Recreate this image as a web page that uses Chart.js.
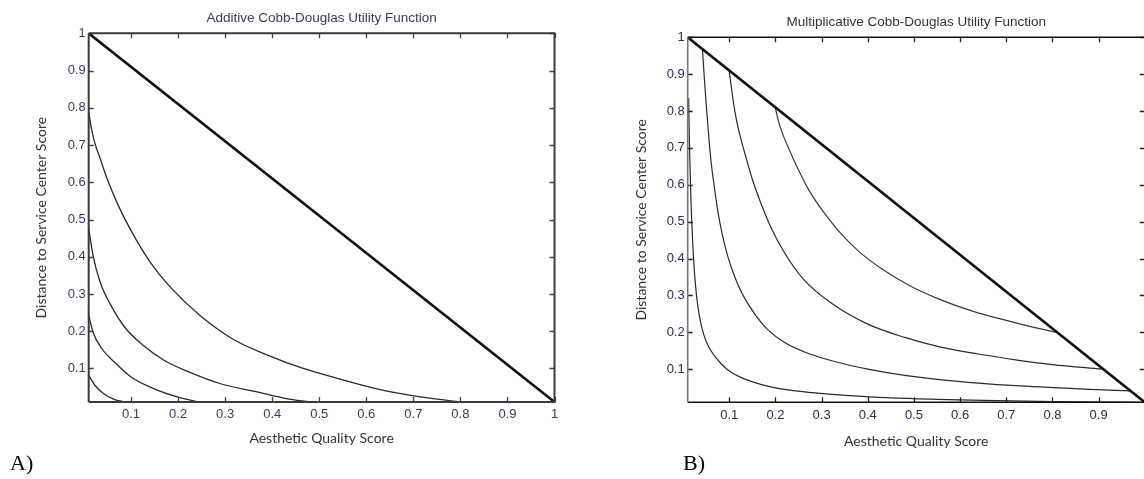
<!DOCTYPE html>
<html>
<head>
<meta charset="utf-8">
<script src="https://cdn.jsdelivr.net/npm/chart.js@4"></script>
<style>
  html, body { margin: 0; padding: 0; background: #fff; overflow: hidden; width: 1144px; height: 479px; }
  canvas { position: absolute; top: 0; }
  .panel { position: absolute; top: 450px; font-family: "Liberation Serif", "DejaVu Serif", serif; font-size: 22px; color: #000; }
</style>
</head>
<body>
<canvas id="chartA" width="575" height="479" style="left:0px"></canvas>
<canvas id="chartB" width="600" height="479" style="left:580px"></canvas>
<div class="panel" style="left:10px">A)</div>
<div class="panel" style="left:683px">B)</div>
<script>
// tick values and labels
const ticksA = [0.1, 0.2, 0.3, 0.4, 0.5, 0.6, 0.7, 0.8, 0.9, 1];
const labelsA = ['0.1', '0.2', '0.3', '0.4', '0.5', '0.6', '0.7', '0.8', '0.9', '1'];
const ticksBx = [0.1, 0.2, 0.3, 0.4, 0.5, 0.6, 0.7, 0.8, 0.9];
const labelsBx = ['0.1', '0.2', '0.3', '0.4', '0.5', '0.6', '0.7', '0.8', '0.9'];

// budget line (both panels)
const lineX = [0.01, 1];
const lineY = [1, 0.01];

// A) additive curves
const aC1X = [0.01, 0.015, 0.022, 0.034, 0.049, 0.072, 0.10, 0.14, 0.186, 0.246, 0.315, 0.39, 0.466, 0.54, 0.62, 0.694, 0.80];
const aC1Y = [0.79, 0.75, 0.71, 0.665, 0.61, 0.54, 0.47, 0.387, 0.315, 0.243, 0.18, 0.136, 0.10, 0.073, 0.046, 0.028, 0.01];
const aC2X = [0.01, 0.019, 0.034, 0.057, 0.087, 0.125, 0.17, 0.224, 0.29, 0.368, 0.43, 0.48];
const aC2Y = [0.477, 0.405, 0.333, 0.27, 0.21, 0.163, 0.122, 0.09, 0.059, 0.037, 0.019, 0.01];
const aC3X = [0.01, 0.019, 0.038, 0.064, 0.10, 0.148, 0.2, 0.243];
const aC3Y = [0.243, 0.198, 0.153, 0.118, 0.077, 0.046, 0.023, 0.01];
const aC4X = [0.01, 0.023, 0.042, 0.064, 0.087];
const aC4Y = [0.082, 0.055, 0.032, 0.017, 0.01];

// B) multiplicative curves
const bC1X = [0.199, 0.205, 0.215, 0.23, 0.25, 0.275, 0.305, 0.34, 0.38, 0.43, 0.49, 0.56, 0.63, 0.7, 0.76, 0.814];
const bC1Y = [0.814, 0.78, 0.74, 0.695, 0.64, 0.58, 0.525, 0.47, 0.42, 0.372, 0.327, 0.287, 0.256, 0.232, 0.213, 0.198];
const bC2X = [0.1, 0.105, 0.112, 0.122, 0.135, 0.15, 0.17, 0.19, 0.22, 0.26, 0.32, 0.4, 0.48, 0.56, 0.64, 0.72, 0.8, 0.906];
const bC2Y = [0.907, 0.86, 0.8, 0.74, 0.68, 0.615, 0.545, 0.485, 0.415, 0.345, 0.28, 0.222, 0.186, 0.159, 0.141, 0.125, 0.112, 0.1];
const bC3X = [0.042, 0.046, 0.05, 0.055, 0.06, 0.067, 0.075, 0.085, 0.097, 0.112, 0.13, 0.155, 0.185, 0.22, 0.27, 0.33, 0.4, 0.48, 0.56, 0.64, 0.72, 0.8, 0.88, 0.968];
const bC3Y = [0.966, 0.89, 0.82, 0.74, 0.67, 0.6, 0.53, 0.465, 0.405, 0.35, 0.3, 0.25, 0.205, 0.172, 0.143, 0.12, 0.1, 0.083, 0.071, 0.062, 0.055, 0.05, 0.045, 0.041];
const bC4X = [0.012, 0.014, 0.017, 0.021, 0.026, 0.032, 0.04, 0.05, 0.063, 0.08, 0.1, 0.13, 0.17, 0.22, 0.28, 0.36, 0.45, 0.55, 0.65, 0.8, 0.99];
const bC4Y = [0.835, 0.7, 0.56, 0.44, 0.34, 0.27, 0.215, 0.175, 0.145, 0.118, 0.095, 0.075, 0.058, 0.045, 0.036, 0.028, 0.022, 0.018, 0.015, 0.012, 0.01];

function pts(xs, ys) {
    return xs.map((x, i) => ({ x: x, y: ys[i] }));
}

function curve(xs, ys, color, width) {
    return {
        data: pts(xs, ys),
        borderColor: color,
        borderWidth: width,
        pointRadius: 0,
        cubicInterpolationMode: 'monotone',
        fill: false
    };
}

// matlab style box with inward ticks on all four sides
const framePlugin = {
    id: 'frame',
    afterDatasetsDraw(chart, args, opts) {
        const { ctx, chartArea: a, scales: { x, y } } = chart;
        const len = opts.tickLen;
        ctx.save();
        ctx.strokeStyle = opts.tickColor;
        ctx.lineWidth = 1.3;
        ctx.beginPath();
        x.ticks.forEach(t => {
            const px = Math.round(x.getPixelForValue(t.value)) + 0.5;
            ctx.moveTo(px, a.bottom); ctx.lineTo(px, a.bottom - len);
            ctx.moveTo(px, a.top); ctx.lineTo(px, a.top + len);
        });
        y.ticks.forEach(t => {
            const py = Math.round(y.getPixelForValue(t.value)) + 0.5;
            ctx.moveTo(a.left, py); ctx.lineTo(a.left + len, py);
            ctx.moveTo(a.right, py); ctx.lineTo(a.right - len, py);
        });
        ctx.stroke();

        ctx.lineWidth = opts.width;
        ctx.strokeStyle = opts.color;
        ctx.beginPath();
        ctx.moveTo(a.left, a.top); ctx.lineTo(a.right, a.top); ctx.lineTo(a.right, a.bottom); ctx.lineTo(a.left, a.bottom);
        ctx.stroke();
        ctx.strokeStyle = opts.leftColor;
        ctx.beginPath();
        ctx.moveTo(a.left, a.top); ctx.lineTo(a.left, a.bottom);
        ctx.stroke();
        ctx.restore();
    }
};

function makeChart(id, cfg) {
    const tickFont = { family: '"Liberation Sans", Arial, sans-serif', size: 13 };
    const titleFont = { family: 'Lato, "Open Sans", sans-serif', size: 14 };
    return new Chart(document.getElementById(id), {
        type: 'line',
        data: { datasets: cfg.datasets },
        plugins: [framePlugin],
        options: {
            responsive: false,
            animation: false,
            devicePixelRatio: 1,
            layout: { padding: { left: 0, top: 0, right: cfg.padRight, bottom: 0 } },
            plugins: {
                legend: { display: false },
                tooltip: { enabled: false },
                title: {
                    display: true,
                    text: cfg.title,
                    fullSize: false,
                    color: cfg.titleColor,
                    font: { family: '"Liberation Sans", Arial, sans-serif', size: 13.5, weight: 'normal' },
                    padding: { top: cfg.titleTop, bottom: cfg.titleBottom }
                },
                frame: { tickLen: 5, tickColor: cfg.tickColor, color: cfg.frameColor, leftColor: cfg.leftColor, width: cfg.frameWidth }
            },
            scales: {
                x: {
                    type: 'linear',
                    min: 0.01,
                    max: 1,
                    grid: { display: false, drawTicks: false },
                    border: { display: false },
                    afterBuildTicks: s => { s.ticks = cfg.xTicks.map(v => ({ value: v })); },
                    afterFit: s => { s.height = cfg.xHeight; s.paddingLeft = 0; s.paddingRight = 0; },
                    ticks: {
                        padding: 5,
                        color: cfg.labelColor,
                        font: tickFont,
                        maxRotation: 0,
                        autoSkip: false,
                        callback: (v, i) => cfg.xLabels[i]
                    },
                    title: {
                        display: true,
                        text: 'Aesthetic Quality Score',
                        color: '#333',
                        font: titleFont,
                        padding: { top: 0, bottom: cfg.xTitlePad }
                    }
                },
                y: {
                    type: 'linear',
                    min: 0.01,
                    max: 1,
                    grid: { display: false, drawTicks: false },
                    border: { display: false },
                    afterBuildTicks: s => { s.ticks = ticksA.map(v => ({ value: v })); },
                    afterFit: s => { s.width = cfg.yWidth; s.paddingTop = 0; s.paddingBottom = 0; },
                    ticks: {
                        padding: 3,
                        color: cfg.labelColor,
                        font: tickFont,
                        autoSkip: false,
                        callback: (v, i) => labelsA[i]
                    },
                    title: {
                        display: true,
                        text: 'Distance to Service Center Score',
                        color: '#333',
                        font: titleFont,
                        padding: { top: cfg.yTitlePad, bottom: 0 }
                    }
                }
            }
        }
    });
}

makeChart('chartA', {
    title: 'Additive Cobb-Douglas Utility Function',
    titleColor: '#3d3566',
    titleTop: 9.9, titleBottom: 7.2,
    padRight: 20.5,
    yWidth: 88.7, xHeight: 77,
    yTitlePad: 32.6, xTitlePad: 32.6,
    xTicks: ticksA, xLabels: labelsA,
    labelColor: '#3d3566',
    tickColor: '#444',
    frameColor: '#3a3a3a', leftColor: '#3a3a3a', frameWidth: 2,
    datasets: [
        curve(lineX, lineY, '#111', 2.6),
        curve(aC1X, aC1Y, '#2a2a2a', 1.3),
        curve(aC2X, aC2Y, '#2a2a2a', 1.3),
        curve(aC3X, aC3Y, '#2a2a2a', 1.3),
        curve(aC4X, aC4Y, '#2a2a2a', 1.3)
    ]
});

makeChart('chartB', {
    title: 'Multiplicative Cobb-Douglas Utility Function',
    titleColor: '#333',
    titleTop: 14.6, titleBottom: 6.5,
    padRight: 35.2,
    yWidth: 107.7, xHeight: 76.7,
    yTitlePad: 53, xTitlePad: 29.6,
    xTicks: ticksBx, xLabels: labelsBx,
    labelColor: '#2b2b55',
    tickColor: '#222',
    frameColor: '#111', leftColor: '#777', frameWidth: 1.6,
    datasets: [
        curve(lineX, lineY, '#111', 2.6),
        curve(bC1X, bC1Y, '#3a3a3a', 1.2),
        curve(bC2X, bC2Y, '#2a2a2a', 1.2),
        curve(bC3X, bC3Y, '#2a2a2a', 1.2),
        curve(bC4X, bC4Y, '#2a2a2a', 1.2)
    ]
});
</script>
</body>
</html>
